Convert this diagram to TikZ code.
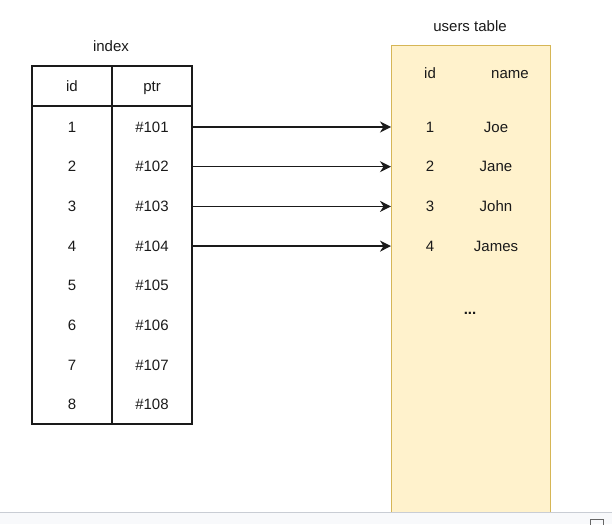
\documentclass[tikz,border=0pt]{standalone}
\usepackage{fontspec}
\setmainfont{Liberation Sans}
\usetikzlibrary{arrows.meta}
\definecolor{noteFill}{HTML}{FFF2CC}
\definecolor{noteLine}{HTML}{D6B656}
\definecolor{barFill}{HTML}{F8F9FB}
\definecolor{barLine}{HTML}{C9CDD4}
\definecolor{ink}{HTML}{1A1A1A}

\begin{document}
\begin{tikzpicture}[x=1pt,y=-1pt,font=\fontsize{15}{17}\selectfont,text=ink,
    cell/.style={inner sep=0pt,text height=1em,text depth=0pt},
    ptrarrow/.style={-{Stealth[length=11pt,width=11pt,inset=3.5pt]},line width=1.4pt,draw=ink}]
\useasboundingbox (0,0) rectangle (612,524);
% users table
\path (391,46) coordinate (uNW) (550,515) coordinate (uSE);
\draw[noteLine,fill=noteFill,line width=1pt] (uNW) rectangle (uSE);
\node[cell] (uTitle) at (470,27) {users table};
\node[cell] (uHid) at (430,74) {id};
\node[cell] (uHname) at (510,74) {name};
\foreach \k/\nm in {1/Joe,2/Jane,3/John,4/James}{
  \node[cell] (uid\k) at (430,{127+39.7*(\k-1)}) {\k};
  \node[cell] (uname\k) at (496,{127+39.7*(\k-1)}) {\nm};
}
\node[cell,font=\fontsize{15}{17}\bfseries] (uDots) at (470,309) {...};
% index
\path (32,66) coordinate (iNW) (192,424) coordinate (iSE);
\draw[ink,line width=1.3pt] (iNW) rectangle (iSE);
\draw[ink,line width=1.3pt] (112,66) -- (112,424) (32,106) -- (192,106);
\node[cell] (iTitle) at (111,47) {index};
\node[cell] (iHid) at (72,87) {id};
\node[cell] (iHptr) at (152,87) {ptr};
\foreach \k in {1,...,8}{
  \node[cell] (id\k) at (72,{127+39.7*(\k-1)}) {\k};
  \node[cell] (ptr\k) at (152,{127+39.7*(\k-1)}) {\#10\k};
}
% pointers
\foreach \k in {1,...,4}
  \draw[ptrarrow] (ptr\k.center -| iSE) -- (uid\k.center -| uNW);
% bottom bar
\fill[barFill] (0,512) rectangle (612,524);
\draw[barLine,line width=1pt] (0,512) -- (612,512);
\draw[gray!80!black,line width=0.8pt] (590.5,519.5) rectangle (603,526);
\end{tikzpicture}
\end{document}
